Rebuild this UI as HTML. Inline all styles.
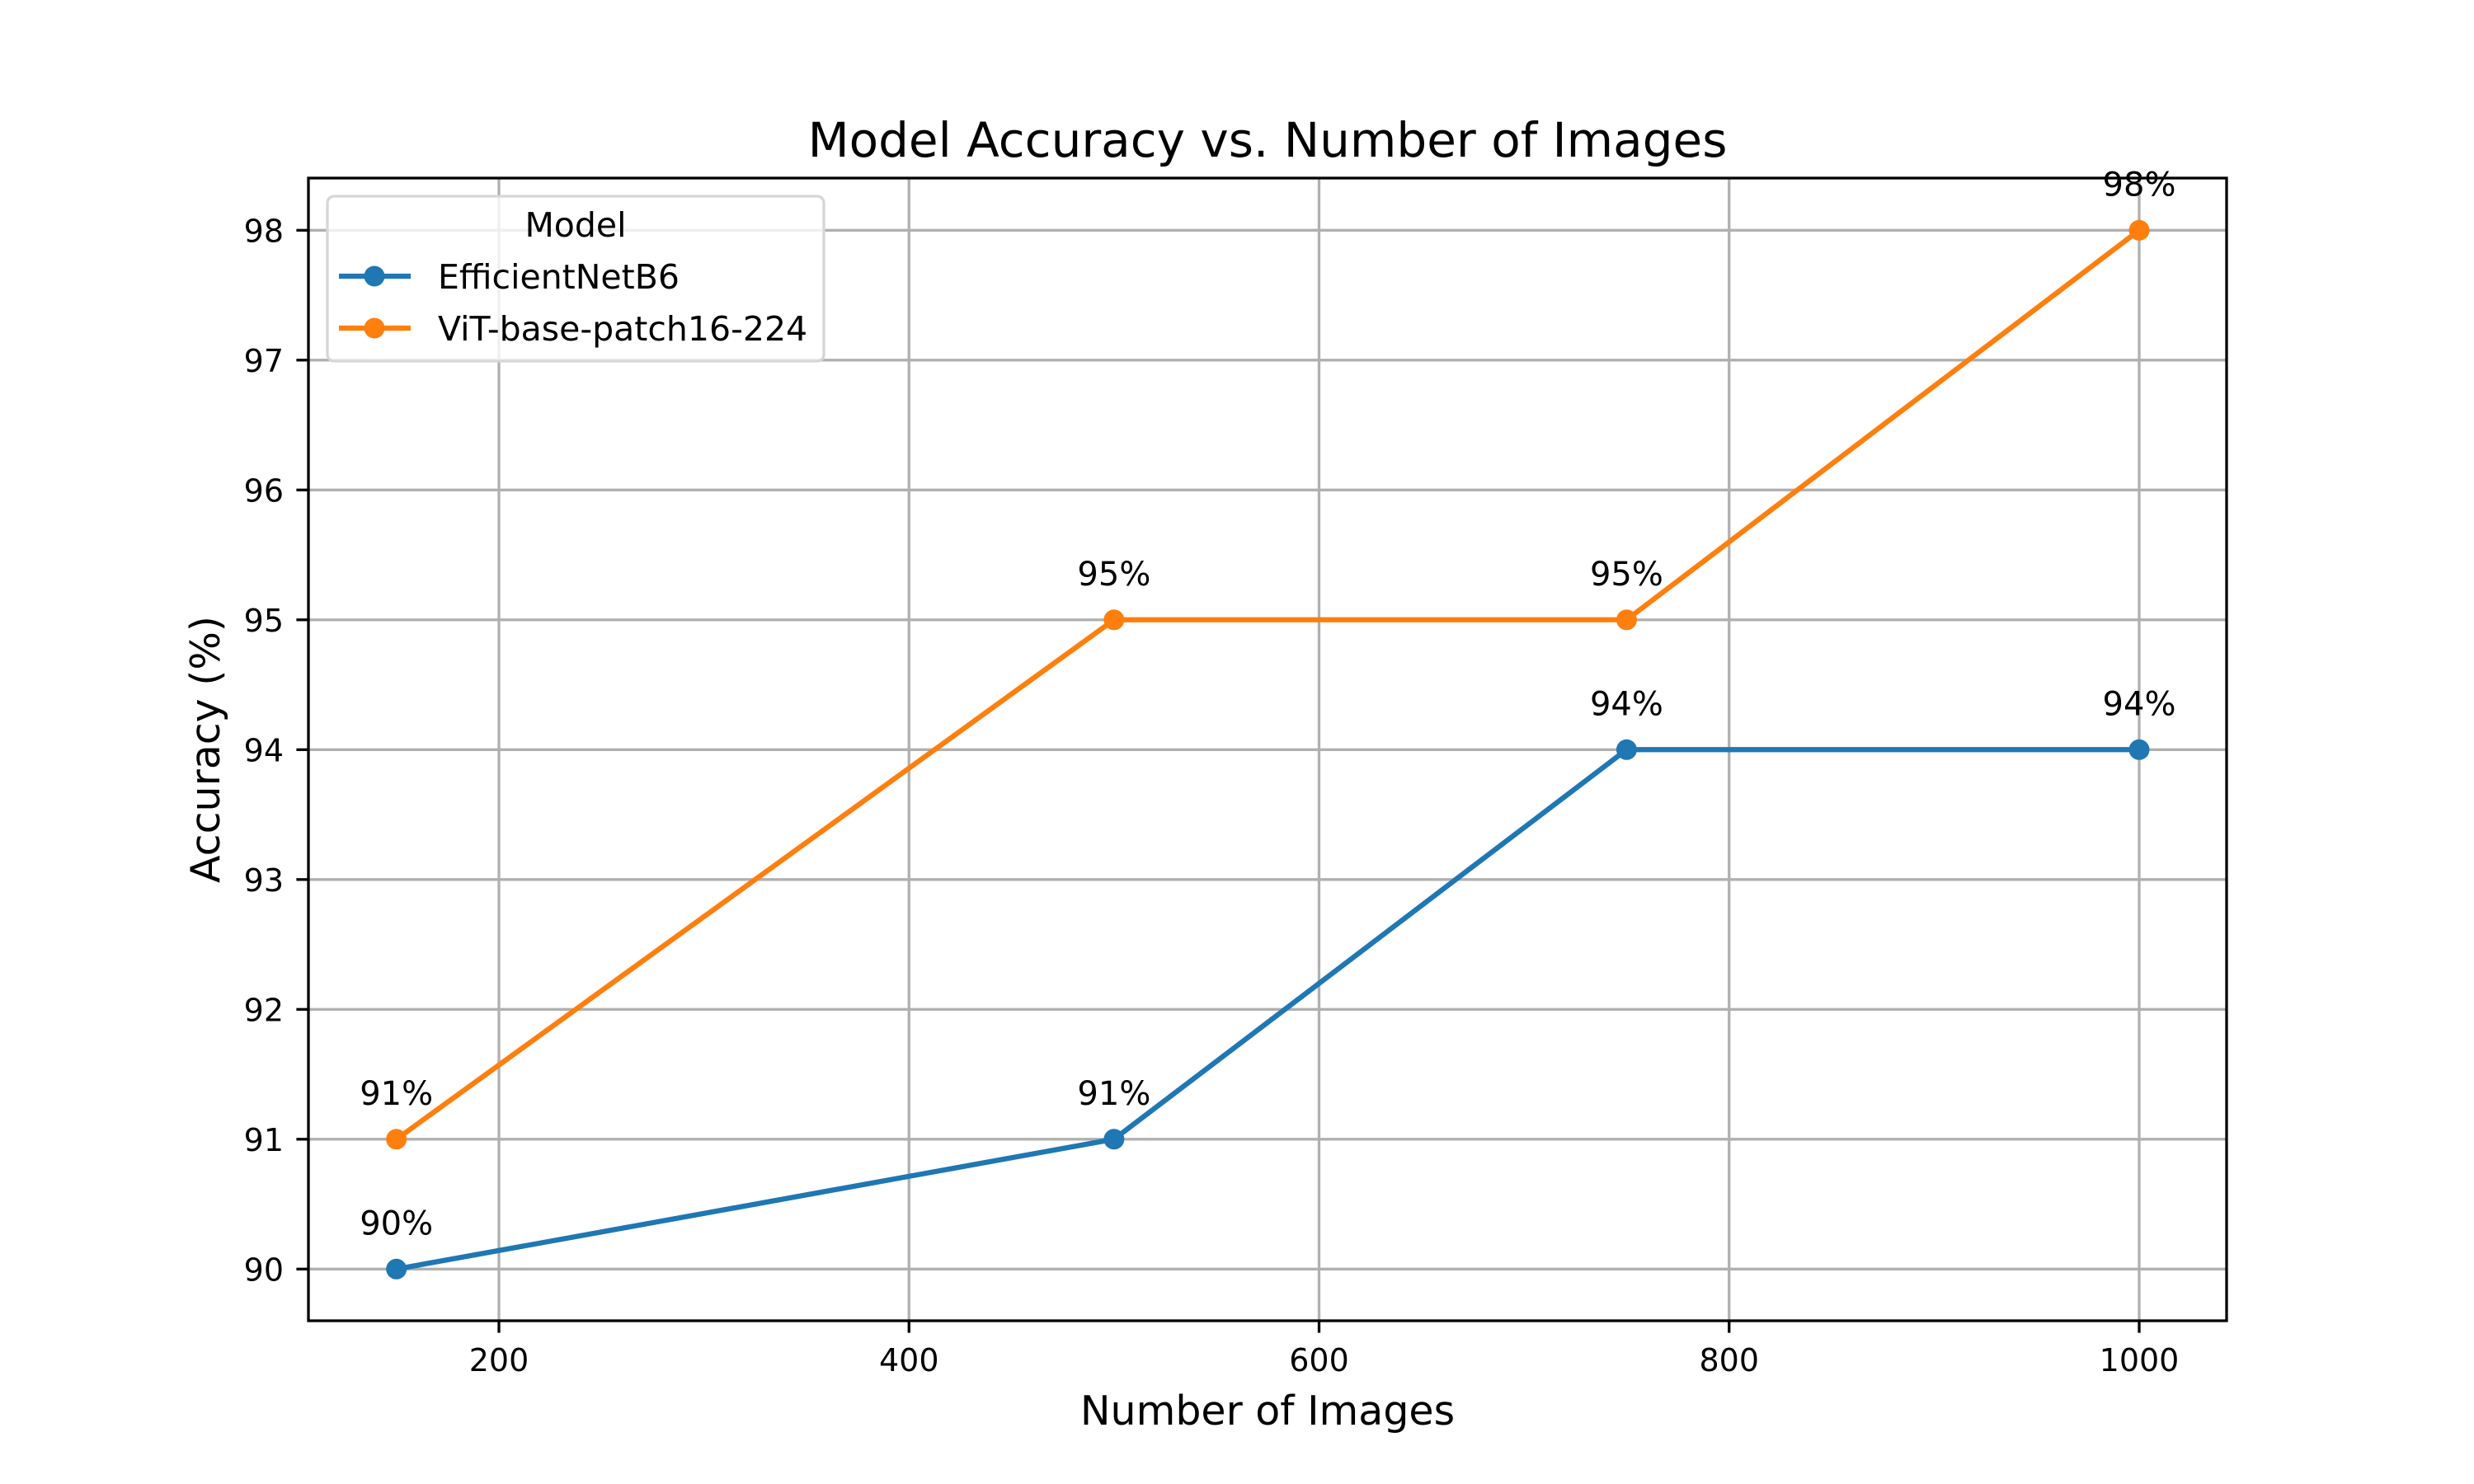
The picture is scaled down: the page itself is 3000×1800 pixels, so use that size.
<!DOCTYPE html>
<html><head><meta charset="utf-8"><style>
html,body{margin:0;padding:0;background:#fff}
svg{display:block;font-family:"DejaVu Sans","Liberation Sans",sans-serif}
</style></head><body>
<svg id="chart" width="3000" height="1800" viewBox="0 0 3000 1800">
<rect width="3000" height="1800" fill="#fff"/>
<g id="grid"></g>
<g id="series"></g>
<g id="axes"></g>
<text x="1537" y="190" font-size="58" text-anchor="middle">Model Accuracy vs. Number of Images</text>
<text x="1537" y="1728" font-size="49" text-anchor="middle">Number of Images</text>
<text transform="translate(266,909) rotate(-90)" font-size="49" text-anchor="middle">Accuracy (%)</text>
<g>
<rect x="397" y="238" width="602" height="200" rx="8" fill="#fff" fill-opacity="0.8" stroke="#d6d6d6" stroke-width="3.3"/>
<text x="698" y="287" font-size="41" text-anchor="middle">Model</text>
<g>
<line x1="411" y1="335" x2="498" y2="335" stroke="#1f77b4" stroke-width="6.25"/>
<circle cx="454" cy="335" r="12.5" fill="#1f77b4"/>
<text x="531" y="350" font-size="41">EfficientNetB6</text></g>
<g>
<line x1="411" y1="398" x2="498" y2="398" stroke="#ff7f0e" stroke-width="6.25"/>
<circle cx="454" cy="398" r="12.5" fill="#ff7f0e"/>
<text x="531" y="413" font-size="41">ViT-base-patch16-224</text></g>
</g>
</svg>
<script>
const xValues = [150, 500, 750, 1000];
const effValues = [90, 91, 94, 94];
const vitValues = [91, 95, 95, 98];
const xTicks = [200, 400, 600, 800, 1000];
const yTicks = [90, 91, 92, 93, 94, 95, 96, 97, 98];

const L = 374, R = 2700, T = 216, B = 1602;
const X = v => 605 + (v - 200) * (2594 - 605) / 800;
const Y = v => 279.3 + (98 - v) * 157.5;
const NS = 'http://www.w3.org/2000/svg';
function mk(tag, attrs, parent) {
  const e = document.createElementNS(NS, tag);
  for (const k in attrs) e.setAttribute(k, attrs[k]);
  parent.appendChild(e);
  return e;
}
const grid = document.getElementById('grid');
const axes = document.getElementById('axes');
const series = document.getElementById('series');

xTicks.forEach(t => {
  const g = mk('line', {x1: X(t), x2: X(t), y1: T, y2: B, stroke: '#b0b0b0', 'stroke-width': 3.3}, grid);
  
  
  const tk = mk('line', {x1: X(t), x2: X(t), y1: B, y2: B + 14.6, stroke: '#000', 'stroke-width': 3.3}, axes);
  
  
  const lb = mk('text', {x: X(t), y: 1663, 'font-size': 38, 'text-anchor': 'middle'}, axes);
  lb.textContent = t;
  
  
});
yTicks.forEach(t => {
  const g = mk('line', {x1: L, x2: R, y1: Y(t), y2: Y(t), stroke: '#b0b0b0', 'stroke-width': 3.3}, grid);
  
  
  const tk = mk('line', {x1: L - 14.6, x2: L, y1: Y(t), y2: Y(t), stroke: '#000', 'stroke-width': 3.3}, axes);
  
  
  const lb = mk('text', {x: 344, y: Y(t) + 14, 'font-size': 38, 'text-anchor': 'end'}, axes);
  lb.textContent = t;
  
  
});
const frame = mk('rect', {x: L, y: T, width: R - L, height: B - T, fill: 'none', stroke: '#000', 'stroke-width': 3.3}, axes);



function drawSeries(vals, color, name) {
  const pts = xValues.map((x, i) => X(x) + ',' + Y(vals[i])).join(' ');
  const pl = mk('polyline', {points: pts, fill: 'none', stroke: color, 'stroke-width': 6.25, 'stroke-linejoin': 'round'}, series);
  
  
  xValues.forEach((x, i) => {
    const c = mk('circle', {cx: X(x), cy: Y(vals[i]), r: 12.5, fill: color}, series);
    
    
    const t = mk('text', {x: X(x), y: Y(vals[i]) - 42, 'font-size': 40, 'text-anchor': 'middle'}, series);
    t.textContent = vals[i] + '%';
    
    
  });
}
drawSeries(effValues, '#1f77b4', 'efficientnet');
drawSeries(vitValues, '#ff7f0e', 'vit');
</script>
</body></html>
